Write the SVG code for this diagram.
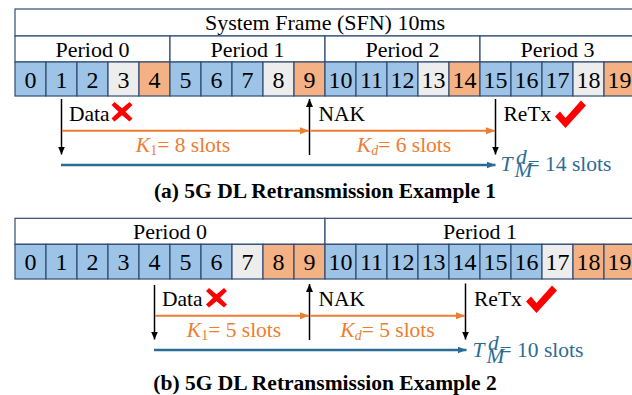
<svg xmlns="http://www.w3.org/2000/svg" width="632" height="395" viewBox="0 0 632 395">
<defs>
<style>
.bg{fill:#ffffff}
.cell{stroke:#2F4B73;stroke-width:1.2}
.blue{fill:#9DC3E6}
.gray{fill:#EDEDED}
.orange{fill:#F4B183}
.white{fill:#ffffff}
.num{font-family:"Liberation Serif","Times New Roman",serif;font-size:24px;text-anchor:middle;fill:#000}
.hdr{font-family:"Liberation Serif","Times New Roman",serif;font-size:22px;text-anchor:middle;fill:#000}
.lbl{font-family:"Liberation Serif","Times New Roman",serif;font-size:21.5px;fill:#000}
.ktxt{font-family:"Liberation Serif","Times New Roman",serif;font-size:21.5px;fill:#ED7D31;text-anchor:middle}
.ttxt{font-family:"Liberation Serif","Times New Roman",serif;font-size:21.5px;fill:#2B6C96}
.cap{font-family:"Liberation Serif","Times New Roman",serif;font-size:21.5px;font-weight:bold;text-anchor:middle;fill:#000}
.it{font-style:italic}
.vl{stroke:#000;stroke-width:1.5;fill:none}
.ol{stroke:#ED7D31;stroke-width:2;fill:none}
.bl{stroke:#2B6C96;stroke-width:2.6;fill:none}
.red{fill:#FF0000}
</style>
<marker id="ah-k" markerUnits="userSpaceOnUse" markerWidth="8" markerHeight="8" refX="8" refY="3.5" orient="auto"><path d="M0,0 L8,3.5 L0,7 Z" fill="#000"/></marker>
<marker id="ah-o" markerUnits="userSpaceOnUse" markerWidth="9" markerHeight="8" refX="9" refY="3.5" orient="auto"><path d="M0,0 L9,3.5 L0,7 Z" fill="#ED7D31"/></marker>
<marker id="ah-b" markerUnits="userSpaceOnUse" markerWidth="9" markerHeight="8" refX="9" refY="3.5" orient="auto"><path d="M0,0 L9,3.5 L0,7 Z" fill="#2B6C96"/></marker>
</defs>
<rect class="bg" x="0" y="0" width="632" height="395"/>

<!-- ===== (a) ===== -->
<g id="a-frame">
<rect class="cell white" x="15" y="9" width="620" height="27"/>
<text class="hdr" x="325" y="29.5">System Frame (SFN) 10ms</text>
</g>
<g id="a-periods">
<rect class="cell white" x="15" y="36" width="155" height="26"/>
<rect class="cell white" x="170" y="36" width="155" height="26"/>
<rect class="cell white" x="325" y="36" width="155" height="26"/>
<rect class="cell white" x="480" y="36" width="155" height="26"/>
<text class="hdr" x="92.5" y="57">Period 0</text>
<text class="hdr" x="247.5" y="57">Period 1</text>
<text class="hdr" x="402.5" y="57">Period 2</text>
<text class="hdr" x="557.5" y="57">Period 3</text>
</g>
<g id="a-slots">
<rect class="cell blue" x="15" y="62" width="31" height="34"/>
<rect class="cell blue" x="46" y="62" width="31" height="34"/>
<rect class="cell blue" x="77" y="62" width="31" height="34"/>
<rect class="cell gray" x="108" y="62" width="31" height="34"/>
<rect class="cell orange" x="139" y="62" width="31" height="34"/>
<rect class="cell blue" x="170" y="62" width="31" height="34"/>
<rect class="cell blue" x="201" y="62" width="31" height="34"/>
<rect class="cell blue" x="232" y="62" width="31" height="34"/>
<rect class="cell gray" x="263" y="62" width="31" height="34"/>
<rect class="cell orange" x="294" y="62" width="31" height="34"/>
<rect class="cell blue" x="325" y="62" width="31" height="34"/>
<rect class="cell blue" x="356" y="62" width="31" height="34"/>
<rect class="cell blue" x="387" y="62" width="31" height="34"/>
<rect class="cell gray" x="418" y="62" width="31" height="34"/>
<rect class="cell orange" x="449" y="62" width="31" height="34"/>
<rect class="cell blue" x="480" y="62" width="31" height="34"/>
<rect class="cell blue" x="511" y="62" width="31" height="34"/>
<rect class="cell blue" x="542" y="62" width="31" height="34"/>
<rect class="cell gray" x="573" y="62" width="31" height="34"/>
<rect class="cell orange" x="604" y="62" width="31" height="34"/>
<text class="num" x="30.5" y="87.5">0</text>
<text class="num" x="61.5" y="87.5">1</text>
<text class="num" x="92.5" y="87.5">2</text>
<text class="num" x="123.5" y="87.5">3</text>
<text class="num" x="154.5" y="87.5">4</text>
<text class="num" x="185.5" y="87.5">5</text>
<text class="num" x="216.5" y="87.5">6</text>
<text class="num" x="247.5" y="87.5">7</text>
<text class="num" x="278.5" y="87.5">8</text>
<text class="num" x="309.5" y="87.5">9</text>
<text class="num" x="340.5" y="87.5">10</text>
<text class="num" x="371.5" y="87.5">11</text>
<text class="num" x="402.5" y="87.5">12</text>
<text class="num" x="433.5" y="87.5">13</text>
<text class="num" x="464.5" y="87.5">14</text>
<text class="num" x="495.5" y="87.5">15</text>
<text class="num" x="526.5" y="87.5">16</text>
<text class="num" x="557.5" y="87.5">17</text>
<text class="num" x="588.5" y="87.5">18</text>
<text class="num" x="619.5" y="87.5">19</text>
</g>
<g id="a-data">
<text class="lbl" x="69" y="121">Data</text>
<path class="red" d="M114.5,102 L122,108.3 L129.5,102 L132.5,105 L125.5,111.7 L132.5,118.5 L129.5,121.5 L122,115.2 L114.5,121.5 L111.5,118.5 L118.5,111.7 L111.5,105 Z"/>
</g>
<g id="a-nak">
<text class="lbl" x="318.5" y="121">NAK</text>
</g>
<g id="a-retx">
<text class="lbl" x="503.5" y="121">ReTx</text>
<path class="red" d="M555,116.5 L560,111.5 L565.5,118 L581,100.5 L586,105.5 L565.5,128 Z"/>
</g>
<g id="a-connectors">
<line class="vl" x1="61.5" y1="99" x2="61.5" y2="154.5" marker-end="url(#ah-k)"/>
<line class="vl" x1="309.5" y1="155" x2="309.5" y2="99" marker-end="url(#ah-k)"/>
<line class="vl" x1="495.5" y1="99" x2="495.5" y2="154.5" marker-end="url(#ah-k)"/>
<line class="ol" x1="62" y1="130.7" x2="309" y2="130.7" marker-end="url(#ah-o)"/>
<line class="ol" x1="310.5" y1="130.7" x2="495" y2="130.7" marker-end="url(#ah-o)"/>
<line class="bl" x1="61" y1="165" x2="495.5" y2="165" marker-end="url(#ah-b)"/>
</g>
<g id="a-labels">
<text class="ktxt" x="183" y="152"><tspan class="it">K</tspan><tspan font-size="14" dy="3">1</tspan><tspan dy="-3">= 8 slots</tspan></text>
<text class="ktxt" x="404" y="152"><tspan class="it">K</tspan><tspan class="it" font-size="14" dy="3">d</tspan><tspan dy="-3">= 6 slots</tspan></text>
<text class="ttxt it" x="500.5" y="171">T</text>
<text class="ttxt it" x="516" y="164" font-size="13.5">d</text>
<text class="ttxt it" x="514.5" y="177" font-size="13">M</text>
<text class="ttxt" x="527.5" y="171">= 14 slots</text>
<text class="cap" x="325" y="198">(a) 5G DL Retransmission Example 1</text>
</g>

<!-- ===== (b) ===== -->
<g id="b-periods">
<rect class="cell white" x="15" y="218.3" width="310" height="26"/>
<rect class="cell white" x="325" y="218.3" width="310" height="26"/>
<text class="hdr" x="170" y="239.3">Period 0</text>
<text class="hdr" x="480" y="239.3">Period 1</text>
</g>
<g id="b-slots">
<rect class="cell blue" x="15" y="244.3" width="31" height="34.7"/>
<rect class="cell blue" x="46" y="244.3" width="31" height="34.7"/>
<rect class="cell blue" x="77" y="244.3" width="31" height="34.7"/>
<rect class="cell blue" x="108" y="244.3" width="31" height="34.7"/>
<rect class="cell blue" x="139" y="244.3" width="31" height="34.7"/>
<rect class="cell blue" x="170" y="244.3" width="31" height="34.7"/>
<rect class="cell blue" x="201" y="244.3" width="31" height="34.7"/>
<rect class="cell gray" x="232" y="244.3" width="31" height="34.7"/>
<rect class="cell orange" x="263" y="244.3" width="31" height="34.7"/>
<rect class="cell orange" x="294" y="244.3" width="31" height="34.7"/>
<rect class="cell blue" x="325" y="244.3" width="31" height="34.7"/>
<rect class="cell blue" x="356" y="244.3" width="31" height="34.7"/>
<rect class="cell blue" x="387" y="244.3" width="31" height="34.7"/>
<rect class="cell blue" x="418" y="244.3" width="31" height="34.7"/>
<rect class="cell blue" x="449" y="244.3" width="31" height="34.7"/>
<rect class="cell blue" x="480" y="244.3" width="31" height="34.7"/>
<rect class="cell blue" x="511" y="244.3" width="31" height="34.7"/>
<rect class="cell gray" x="542" y="244.3" width="31" height="34.7"/>
<rect class="cell orange" x="573" y="244.3" width="31" height="34.7"/>
<rect class="cell orange" x="604" y="244.3" width="31" height="34.7"/>
<text class="num" x="30.5" y="269.5">0</text>
<text class="num" x="61.5" y="269.5">1</text>
<text class="num" x="92.5" y="269.5">2</text>
<text class="num" x="123.5" y="269.5">3</text>
<text class="num" x="154.5" y="269.5">4</text>
<text class="num" x="185.5" y="269.5">5</text>
<text class="num" x="216.5" y="269.5">6</text>
<text class="num" x="247.5" y="269.5">7</text>
<text class="num" x="278.5" y="269.5">8</text>
<text class="num" x="309.5" y="269.5">9</text>
<text class="num" x="340.5" y="269.5">10</text>
<text class="num" x="371.5" y="269.5">11</text>
<text class="num" x="402.5" y="269.5">12</text>
<text class="num" x="433.5" y="269.5">13</text>
<text class="num" x="464.5" y="269.5">14</text>
<text class="num" x="495.5" y="269.5">15</text>
<text class="num" x="526.5" y="269.5">16</text>
<text class="num" x="557.5" y="269.5">17</text>
<text class="num" x="588.5" y="269.5">18</text>
<text class="num" x="619.5" y="269.5">19</text>
</g>
<g id="b-data">
<text class="lbl" x="162" y="306">Data</text>
<path class="red" d="M209,288 L216.5,294.3 L224,288 L227,291 L220,297.7 L227,304.5 L224,307.5 L216.5,301.2 L209,307.5 L206,304.5 L213,297.7 L206,291 Z"/>
</g>
<g id="b-nak">
<text class="lbl" x="318.5" y="306">NAK</text>
</g>
<g id="b-retx">
<text class="lbl" x="474" y="306">ReTx</text>
<path class="red" d="M526,301.5 L531,296.5 L536.5,303 L552,285.5 L557,290.5 L536.5,313 Z"/>
</g>
<g id="b-connectors">
<line class="vl" x1="154.5" y1="285" x2="154.5" y2="339.5" marker-end="url(#ah-k)"/>
<line class="vl" x1="309.5" y1="340" x2="309.5" y2="284" marker-end="url(#ah-k)"/>
<line class="vl" x1="465.5" y1="283.5" x2="465.5" y2="339.5" marker-end="url(#ah-k)"/>
<line class="ol" x1="155" y1="315.7" x2="309" y2="315.7" marker-end="url(#ah-o)"/>
<line class="ol" x1="310.5" y1="315.7" x2="465" y2="315.7" marker-end="url(#ah-o)"/>
<line class="bl" x1="154" y1="350" x2="466.5" y2="350" marker-end="url(#ah-b)"/>
</g>
<g id="b-labels">
<text class="ktxt" x="234" y="337"><tspan class="it">K</tspan><tspan font-size="14" dy="3">1</tspan><tspan dy="-3">= 5 slots</tspan></text>
<text class="ktxt" x="387.5" y="337"><tspan class="it">K</tspan><tspan class="it" font-size="14" dy="3">d</tspan><tspan dy="-3">= 5 slots</tspan></text>
<text class="ttxt it" x="472.5" y="356.5">T</text>
<text class="ttxt it" x="488" y="349.5" font-size="13.5">d</text>
<text class="ttxt it" x="486.5" y="362.5" font-size="13">M</text>
<text class="ttxt" x="499.5" y="356.5">= 10 slots</text>
<text class="cap" x="325" y="390">(b) 5G DL Retransmission Example 2</text>
</g>
</svg>
